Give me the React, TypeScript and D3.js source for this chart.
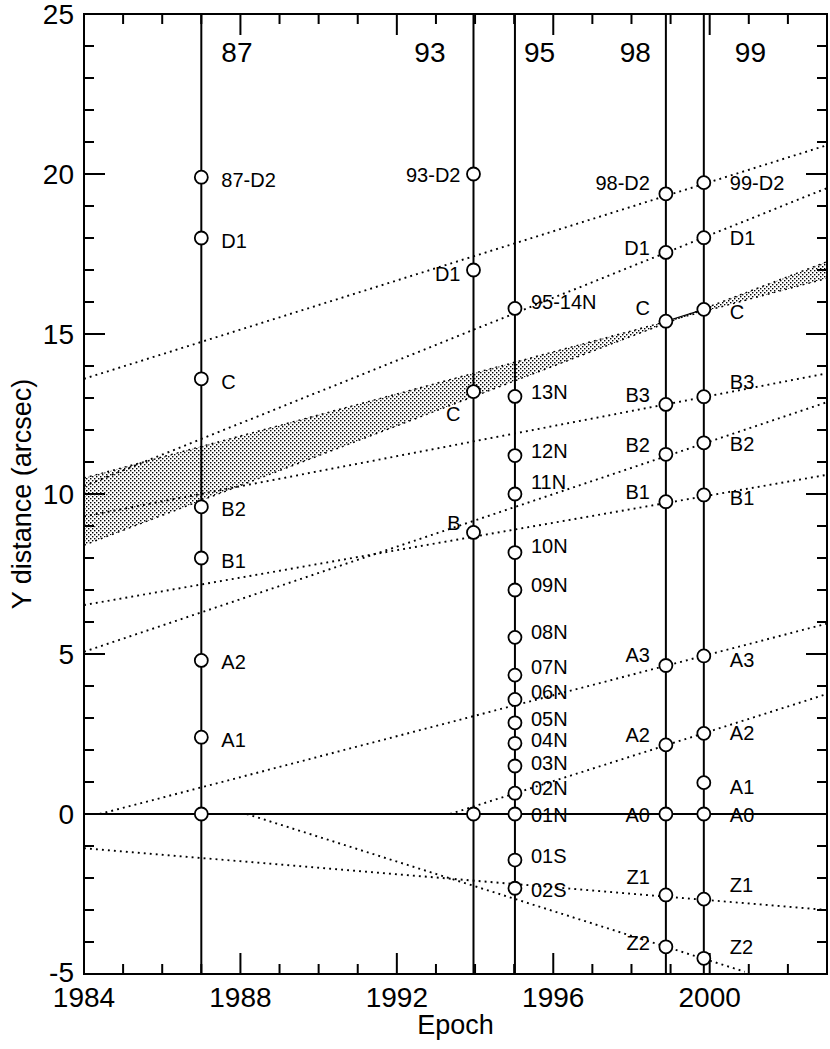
import React, { useEffect } from "react";
import * as d3 from "d3";

// ---------------- DATA ----------------
const epochNames = ["87", "93", "95", "98", "99"];
const epochYears = [1987.0, 1993.96, 1995.02, 1998.88, 1999.85];

const names87 = ["87-D2", "D1", "C", "B2", "B1", "A2", "A1", ""];
const values87 = [19.9, 18.0, 13.6, 9.6, 8.0, 4.8, 2.4, 0];

const names93 = ["93-D2", "D1", "C", "B", ""];
const values93 = [20.0, 17.0, 13.2, 8.8, 0];

const names95 = ["95-14N", "13N", "12N", "11N", "10N", "09N", "08N", "07N", "06N", "05N", "04N", "03N", "02N", "01N", "01S", "02S"];
const values95 = [15.8, 13.05, 11.2, 10.0, 8.17, 7.0, 5.52, 4.34, 3.58, 2.85, 2.21, 1.5, 0.65, 0, -1.44, -2.32];

const names98 = ["98-D2", "D1", "C", "B3", "B2", "B1", "A3", "A2", "A0", "Z1", "Z2"];
const values98 = [19.38, 17.55, 15.4, 12.8, 11.24, 9.76, 4.64, 2.16, 0, -2.53, -4.15];

const names99 = ["99-D2", "D1", "C", "B3", "B2", "B1", "A3", "A2", "A1", "A0", "Z1", "Z2"];
const values99 = [19.73, 18.01, 15.77, 13.04, 11.6, 9.97, 4.94, 2.52, 0.98, 0, -2.66, -4.51];

// dotted motion trends
const trendNames = ["D2", "D1", "B3", "B2", "B1", "A3", "A2", "Z1", "Z2"];
const trendStartYear = [1984, 1984, 1984, 1984, 1984, 1984.4, 1993.36, 1984, 1988.16];
const trendStartValue = [13.6, 10.25, 9.3, 5.07, 6.53, 0, 0, -1.07, 0];
const trendEndYear = [2003, 2003, 2003, 2003, 2003, 2003, 2003, 2003, 2000.9];
const trendEndValue = [20.9, 19.56, 13.77, 12.87, 10.6, 5.95, 3.75, -3.0, -4.93];

// stippled uncertainty band for component C (two crossing lines)
const bandYears = [1984, 2003];
const bandLineA = [10.5, 16.74];
const bandLineB = [8.4, 17.26];

const xTickYears = d3.range(1984, 2004);
const xTickLabels = ["1984", "1988", "1992", "1996", "2000"];
const yTickValues = d3.range(-5, 26);
const yTickLabels = ["-5", "0", "5", "10", "15", "20", "25"];

// ---------------- LAYOUT ----------------
const columns = [
  { names: names87, values: values87, side: "right", dx: 20, dy: [3, 3, 3, 2, 3, 2, 3, 0] },
  { names: names93, values: values93, side: "left", dx: -13, dy: [1, 4, 22, -9, 0] },
  { names: names95, values: values95, side: "right", dx: 16, dy: [-6, -4, -5, -12, -7, -5, -5, -8, -7, -4, -3, -3, -5, 1, -4, 2] },
  { names: names98, values: values98, side: "left", dx: -16, dy: [-11, -4, -13, -9, -9, -10, -11, -10, 1, -18, -4] },
  { names: names99, values: values99, side: "right", dx: 26, dy: [0, 0, 3, -15, 1, 3, 4, 0, 4, 1, -14, -11] },
];
const epochLabelDx = [20, -28, 9, -15, 31];
const epochLabelAnchor = ["start", "end", "start", "end", "start"];

const W = 830;
const H = 1049;
const L = 84, R = 827, T = 14, B = 974;
const FONT = "'Liberation Sans', Arial, Helvetica, sans-serif";

export default function App() {
  useEffect(() => {
    document.body.style.margin = "0";
  }, []);

  const x = d3.scaleLinear().domain([1984, 2003]).range([L, R]);
  const y = d3.scaleLinear().domain([-5, 25]).range([B, T]);

  // band crossing point
  const sA = (bandLineA[1] - bandLineA[0]) / (bandYears[1] - bandYears[0]);
  const sB = (bandLineB[1] - bandLineB[0]) / (bandYears[1] - bandYears[0]);
  const tc = (bandLineB[0] - bandLineA[0]) / (sA - sB);
  const cx = bandYears[0] + tc;
  const cy = bandLineA[0] + sA * tc;
  const line = d3.line<[number, number]>().x((d) => x(d[0])).y((d) => y(d[1]));
  const bandLeft = line([[bandYears[0], bandLineA[0]], [cx, cy], [bandYears[0], bandLineB[0]]]) + "Z";
  const bandRight = line([[bandYears[1], bandLineA[1]], [cx, cy], [bandYears[1], bandLineB[1]]]) + "Z";

  const dotted = { stroke: "#000", strokeWidth: 1.9, strokeDasharray: "1.9 4.1", fill: "none" };

  return (
    <svg width={W} height={H} style={{ display: "block", background: "#fff" }} fontFamily={FONT}>
      <defs>
        <pattern id="stip" width="4" height="4" patternUnits="userSpaceOnUse">
          <rect x="0" y="0" width="1.4" height="1.4" fill="#000" />
          <rect x="2" y="2" width="1.4" height="1.4" fill="#000" />
        </pattern>
        <clipPath id="plot">
          <rect x={L} y={T} width={R - L} height={B - T} />
        </clipPath>
      </defs>

      <g clipPath="url(#plot)">
        <path d={bandLeft} fill="url(#stip)" />
        <path d={bandRight} fill="url(#stip)" />
        <path d={line([[bandYears[0], bandLineA[0]], [bandYears[1], bandLineA[1]]]) || ""} {...dotted} strokeWidth={1.4} />
        <path d={line([[bandYears[0], bandLineB[0]], [bandYears[1], bandLineB[1]]]) || ""} {...dotted} strokeWidth={1.4} />

        {trendNames.map((n, i) => (
          <path
            key={n}
            d={line([[trendStartYear[i], trendStartValue[i]], [trendEndYear[i], trendEndValue[i]]]) || ""}
            {...dotted}
          />
        ))}

        {/* solid link between C at 98 and 99 */}
        <path
          d={line([[epochYears[3], values98[2]], [epochYears[4], values99[2]]]) || ""}
          stroke="#000"
          strokeWidth={1.2}
          fill="none"
        />

        {/* epoch vertical lines */}
        {epochYears.map((yr, i) => (
          <line key={i} x1={x(yr)} x2={x(yr)} y1={T} y2={B} stroke="#000" strokeWidth={2} />
        ))}
        {/* zero line */}
        <line x1={L} x2={R} y1={y(0)} y2={y(0)} stroke="#000" strokeWidth={2} />
      </g>

      {/* ticks */}
      {xTickYears.map((yr) => {
        const len = (yr - 1984) % 4 === 0 ? 21 : 10;
        return (
          <g key={"xt" + yr}>
            <line x1={x(yr)} x2={x(yr)} y1={B} y2={B - len} stroke="#000" strokeWidth={2} />
            <line x1={x(yr)} x2={x(yr)} y1={T} y2={T + len} stroke="#000" strokeWidth={2} />
          </g>
        );
      })}
      {yTickValues.map((v) => {
        const len = v % 5 === 0 ? 21 : 10;
        return (
          <g key={"yt" + v}>
            <line x1={L} x2={L + len} y1={y(v)} y2={y(v)} stroke="#000" strokeWidth={2} />
            <line x1={R} x2={R - len} y1={y(v)} y2={y(v)} stroke="#000" strokeWidth={2} />
          </g>
        );
      })}

      {/* frame */}
      <rect x={L} y={T} width={R - L} height={B - T} fill="none" stroke="#000" strokeWidth={2} />

      {/* tick labels */}
      {xTickLabels.map((t) => (
        <text key={"xl" + t} x={x(+t)} y={1007} fontSize={28} textAnchor="middle">
          {t}
        </text>
      ))}
      {yTickLabels.map((t) => (
        <text key={"yl" + t} x={74} y={y(+t) + (t === "-5" ? 8 : 10)} fontSize={28} textAnchor="end">
          {t}
        </text>
      ))}

      {/* axis titles */}
      <text x={(L + R) / 2} y={1034} fontSize={27} textAnchor="middle">
        Epoch
      </text>
      <text transform={`translate(31,${(T + B) / 2}) rotate(-90)`} fontSize={27} textAnchor="middle">
        Y distance (arcsec)
      </text>

      {/* epoch labels */}
      {epochNames.map((n, i) => (
        <text key={"en" + n} x={x(epochYears[i]) + epochLabelDx[i]} y={62} fontSize={28} textAnchor={epochLabelAnchor[i]}>
          {n}
        </text>
      ))}

      {/* points and labels */}
      {columns.map((col, ci) =>
        col.values.map((v, pi) => (
          <g key={ci + "-" + pi}>
            <circle cx={x(epochYears[ci])} cy={y(v)} r={6.5} fill="#fff" stroke="#000" strokeWidth={1.8} />
            {col.names[pi] ? (
              <text
                x={x(epochYears[ci]) + col.dx}
                y={y(v) + col.dy[pi] + 7}
                fontSize={20}
                textAnchor={col.side === "right" ? "start" : "end"}
              >
                {col.names[pi]}
              </text>
            ) : null}
          </g>
        ))
      )}
    </svg>
  );
}
